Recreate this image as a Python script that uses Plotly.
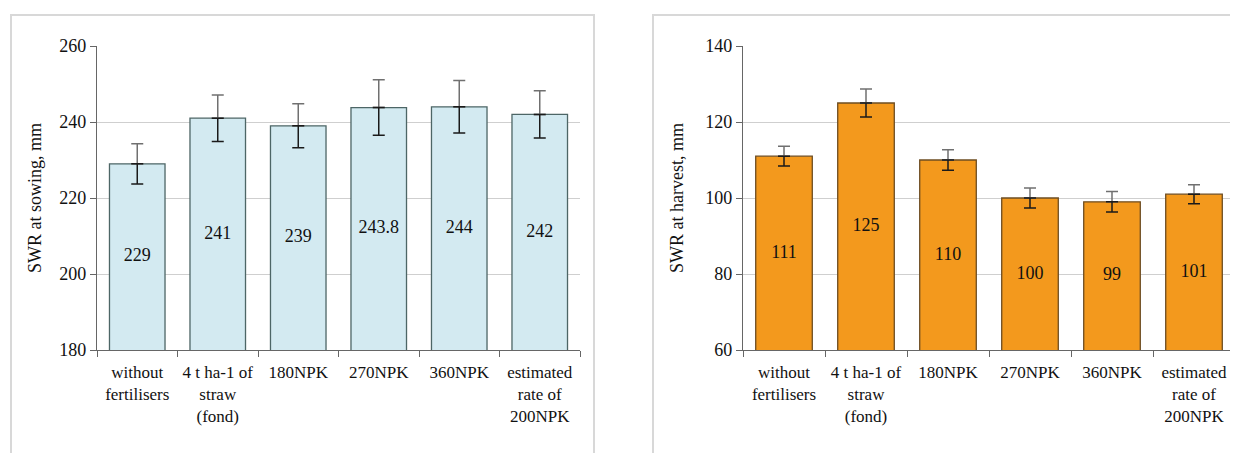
import plotly.graph_objects as go

categories = ["without<br>fertilisers", "4 t ha-1 of<br>straw<br>(fond)", "180NPK", "270NPK", "360NPK",
              "estimated<br>rate of<br>200NPK"]
sowing_values = [229, 241, 239, 243.8, 244, 242]
sowing_labels = ["229", "241", "239", "243.8", "244", "242"]
sowing_err = [5.3, 6.1, 5.8, 7.3, 6.9, 6.2]
harvest_values = [111, 125, 110, 100, 99, 101]
harvest_labels = ["111", "125", "110", "100", "99", "101"]
harvest_err = [2.6, 3.7, 2.7, 2.6, 2.7, 2.5]

sowing_range = [180, 260]
harvest_range = [60, 140]

# page has an 8px body margin; figure is sized to fill the rest of the window
OFF = 8
W, H = 1238 - OFF, 453 - OFF
FONT = "Liberation Serif, Times New Roman, serif"
FS = 18

fig = go.Figure()


def add_panel(values, labels, err, yrange, xa, ya, fill, line):
    fig.add_trace(go.Bar(
        x=categories, y=values,
        marker=dict(color=fill, line=dict(color=line, width=1.3)),
        error_y=dict(type="data", symmetric=False, array=err, arrayminus=[0] * len(err),
                     color="#707070", thickness=1.5, width=6),
        xaxis=xa, yaxis=ya, showlegend=False, hoverinfo="skip"))
    fig.add_trace(go.Scatter(
        x=categories, y=values, mode="markers", marker=dict(size=0.1, color="rgba(0,0,0,0)"),
        error_y=dict(type="data", symmetric=False, array=[0] * len(err), arrayminus=err,
                     color="#1a1a1a", thickness=1.5, width=6),
        xaxis=xa, yaxis=ya, showlegend=False, hoverinfo="skip"))
    # value labels centred inside the bars
    fig.add_trace(go.Scatter(
        x=categories, y=[(yrange[0] + v) / 2 for v in values], mode="text", text=labels,
        textposition="middle center", textfont=dict(family=FONT, size=FS, color="#111111"),
        xaxis=xa, yaxis=ya, showlegend=False, hoverinfo="skip"))


add_panel(sowing_values, sowing_labels, sowing_err, sowing_range, "x", "y", "#d3eaf1", "#4d6666")
add_panel(harvest_values, harvest_labels, harvest_err, harvest_range, "x2", "y2", "#f3991d", "#6e4d22")


def px_x(v):
    return (v - OFF) / W


def px_y(v):
    return 1 - (v - OFF) / H


ydom = [px_y(350), px_y(46)]
axis_common = dict(showline=True, linecolor="#666666", linewidth=1.3, ticks="outside",
                   ticklen=6, tickcolor="#666666", automargin=False)
xtick_font = dict(family=FONT, size=17, color="#111111")
ytick_font = dict(family=FONT, size=FS, color="#111111")

fig.update_layout(
    width=W, height=H, margin=dict(l=0, r=0, t=0, b=0),
    paper_bgcolor="white", plot_bgcolor="white", bargap=0.31,
    xaxis=dict(domain=[px_x(97), px_x(580)], anchor="y", type="category", tickson="boundaries",
               showgrid=False, tickangle=0, tickfont=xtick_font, ticklabelstandoff=6, **axis_common),
    yaxis=dict(domain=ydom, anchor="x", range=sowing_range, dtick=20, showgrid=True,
               gridcolor="#cfcfcf", gridwidth=1.3, zeroline=False, tickfont=ytick_font,
               title=dict(text="SWR at sowing, mm", font=dict(family=FONT, size=FS, color="#111111"),
                          standoff=12),
               **axis_common),
    xaxis2=dict(domain=[px_x(743), px_x(1235)], anchor="y2", type="category", tickson="boundaries",
                showgrid=False, tickangle=0, tickfont=xtick_font, ticklabelstandoff=6, **axis_common),
    yaxis2=dict(domain=ydom, anchor="x2", range=harvest_range, dtick=20, showgrid=True,
                gridcolor="#cfcfcf", gridwidth=1.3, zeroline=False, tickfont=ytick_font,
                title=dict(text="SWR at harvest, mm", font=dict(family=FONT, size=FS, color="#111111"),
                           standoff=16),
                **axis_common),
)

# panel frames
fig.add_shape(type="rect", xref="paper", yref="paper", x0=px_x(11), x1=px_x(594), y0=-0.05, y1=px_y(15),
              line=dict(color="#d8d8d8", width=2), layer="below")
fig.add_shape(type="rect", xref="paper", yref="paper", x0=px_x(653), x1=1.05, y0=-0.05, y1=px_y(15),
              line=dict(color="#d8d8d8", width=2), layer="below")

fig.write_html("out.html")
